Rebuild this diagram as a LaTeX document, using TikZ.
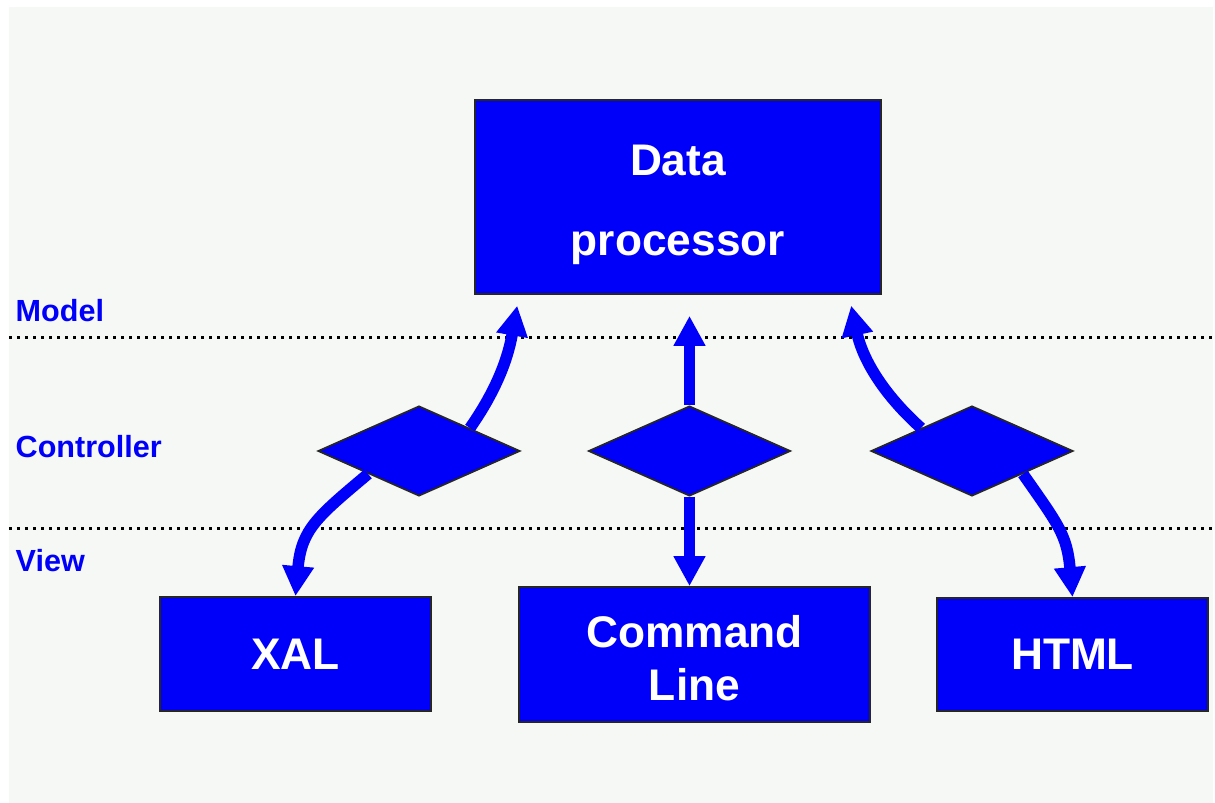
\documentclass[tikz,border=0pt]{standalone}
\usepackage{fontspec}
\setmainfont{Liberation Sans}
\usetikzlibrary{arrows.meta,shapes.geometric}
\definecolor{paper}{RGB}{246,248,246}
\definecolor{mvcblue}{RGB}{0,0,250}
\tikzset{
	box/.style={draw=black!85, line width=0.5pt, fill=mvcblue, text=white, inner sep=0pt, align=center, font=\fontsize{12.6}{15}\selectfont\bfseries},
	ctrl/.style={diamond, draw=black!85, line width=0.5pt, fill=mvcblue, inner sep=0pt, minimum width=2.02cm, minimum height=0.9cm},
	tier/.style={anchor=west, inner sep=0pt, text=mvcblue, font=\fontsize{8.7}{11}\selectfont\bfseries},
	flow/.style={draw=mvcblue, line width=0.115cm, -{Triangle[length=0.3cm, width=0.3cm]}},
	divider/.style={line width=0.03cm, dash pattern=on 0.03cm off 0.05cm}
}

\begin{document}
\begin{tikzpicture}
	%%%%% START %%%%%
	
	\useasboundingbox (0,0) rectangle (12.15,-8.03);
	\fill[paper] (0.09,-0.07) rectangle (12.13,-8.03);
	
	\draw[divider] (0.09,-3.38) -- (12.13,-3.38);
	\draw[divider] (0.09,-5.29) -- (12.13,-5.29);
	
	\node[tier] (model) at (0.15,-3.11) {Model};
	\node[tier] (controller) at (0.15,-4.47) {Controller};
	\node[tier] (view) at (0.15,-5.61) {View};
	
	\node[box, minimum width=4.06cm, minimum height=1.94cm, text height=1.26cm, font=\fontsize{12.6}{22.7}\selectfont\bfseries] (dp) at (6.78,-1.97) {Data\\processor};
	
	\node[ctrl] (ldia) at (4.19,-4.51) {};
	\node[ctrl] (mdia) at (6.895,-4.51) {};
	\node[ctrl] (rdia) at (9.72,-4.51) {};
	
	\node[box, minimum width=2.71cm, minimum height=1.14cm] (xal) at (2.955,-6.54) {XAL};
	\node[box, minimum width=3.51cm, minimum height=1.35cm, text height=0.92cm] (cmd) at (6.945,-6.545) {Command\\Line};
	\node[box, minimum width=2.71cm, minimum height=1.13cm] (html) at (10.725,-6.545) {HTML};
	
	\draw[flow, shorten >=0.11cm] (ldia.north east) to[out=55, in=-100] ([xshift=0.45cm]dp.south west);
	\draw[flow, shorten >=0.21cm] (mdia.north) -- (mdia.north |- dp.south);
	\draw[flow, shorten >=0.11cm] (rdia.north west) to[out=138, in=-78] ([xshift=-0.33cm]dp.south east);
	
	\draw[flow] (ldia.south west) to[out=-140, in=85, looseness=1.2] (xal.north);
	\draw[flow] (mdia.south) -- (mdia.south |- cmd.north);
	\draw[flow] (rdia.south east) to[out=-55, in=95, looseness=1.2] (html.north);
	
	%%%%% END %%%%%
\end{tikzpicture}
\end{document}
